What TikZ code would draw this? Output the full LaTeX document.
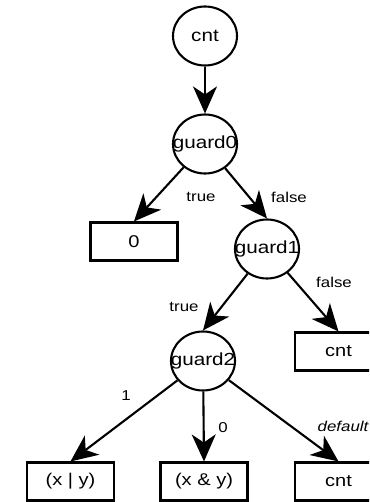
\documentclass[tikz,border=0pt]{standalone}
\usepackage{fontspec}
\setmainfont{Liberation Sans}
\newfontfamily\diafont[FakeStretch=1.18]{Liberation Sans}
\usetikzlibrary{arrows.meta,shapes.geometric}
\begin{document}
\begin{tikzpicture}[x=1pt,y=-1pt,
  state/.style={draw, line width=2.1pt, ellipse, minimum width=64pt, minimum height=59pt,
    inner xsep=-12pt, inner ysep=0pt, font=\diafont\fontsize{17.5}{19}\selectfont},
  leaf/.style={draw, line width=2.1pt, rectangle, minimum width=87pt, minimum height=38pt,
    inner sep=0pt, font=\diafont\fontsize{17}{19}\selectfont},
  link/.style={line width=2.1pt, -{Stealth[length=27pt,width=24pt,inset=8pt]}},
  lbl/.style={inner sep=0pt, font=\diafont\fontsize{14.3}{16}\selectfont}]
\useasboundingbox (0,0) rectangle (369,502);
\clip (0,0) rectangle (369,502);

% decision nodes
\node[state] (c0) at (205,36) {cnt};
\node[state] (g0) at (205,144) {guard0};
\node[state] (g1) at (267,249) {guard1};
\node[state] (g2) at (203,361) {guard2};

% result boxes
\node[leaf] (r0) at (134,241.5) {0};
\node[leaf] (r1) at (338.5,351.5) {cnt};
\node[leaf] (r2) at (70.5,481.5) {(x | y)};
\node[leaf] (r3) at (204,481.5) {(x \& y)};
\node[leaf] (r4) at (338.5,481.5) {cnt};

% connectors
\draw[link] (c0) -- (g0.north);
\draw[link] (g0) -- (r0.north);
\draw[link] (g0) -- (g1.north);
\draw[link] (g1) -- (g2.north);
\draw[link] (g1) -- (r1.north);
\draw[link] (g2) -- (r2.north);
\draw[link] (g2) -- (r3.north);
\draw[link] (g2) -- (r4.north);

% branch labels
\node[lbl] (l0) at (201,197) {true};
\node[lbl] (l1) at (289,197) {false};
\node[lbl] (l2) at (334,282) {false};
\node[lbl] (l3) at (184,307) {true};
\node[lbl] (l4) at (126,396) {1};
\node[lbl] (l5) at (223,428) {0};
\node[lbl] (l6) at (343,426) {\itshape default};
\end{tikzpicture}
\end{document}
